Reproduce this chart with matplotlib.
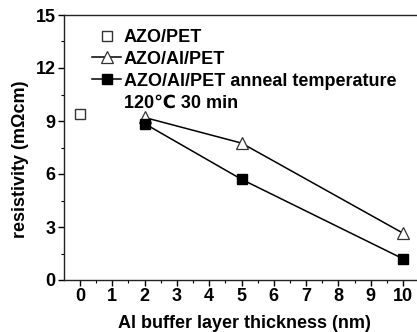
import matplotlib
matplotlib.use("Agg")
import matplotlib.pyplot as plt
from matplotlib.lines import Line2D
from matplotlib.ticker import MultipleLocator

plt.rcParams['font.family'] = ['Liberation Sans', 'DejaVu Sans']
plt.rcParams['font.weight'] = 'bold'

# data
azo_pet_x = [0]
azo_pet_y = [9.4]
azo_al_x = [2, 5, 10]
azo_al_y = [9.2, 7.75, 2.65]
anneal_x = [2, 5, 10]
anneal_y = [8.85, 5.7, 1.2]

labels = ["AZO/PET", "AZO/Al/PET", "AZO/Al/PET anneal temperature", "120\u2103 30 min"]
xticks = list(range(0, 11))
yticks = [0, 3, 6, 9, 12, 15]

fig = plt.figure(figsize=(4.17, 3.32), dpi=100)
ax = fig.add_axes([64/417, 1-280/332, (425-64)/417, (280-15)/332])

ax.plot(azo_pet_x, azo_pet_y, ls='none', marker='s', ms=6.5, mfc='white', mec='#333333', mew=1.0)
ax.plot(azo_al_x, azo_al_y, color='black', lw=1.1, marker='^', ms=9, mfc='white', mec='#333333', mew=0.9)
ax.plot(anneal_x, anneal_y, color='black', lw=1.1, marker='s', ms=7, mfc='black', mec='black')

ax.set_xlim(-0.495, 10.68)
ax.set_ylim(0, 15)
ax.set_xticks(xticks)
ax.set_yticks(yticks)
ax.xaxis.set_minor_locator(MultipleLocator(0.5))
ax.yaxis.set_minor_locator(MultipleLocator(1.5))
ax.tick_params(axis='both', which='major', direction='out', length=4, width=1, labelsize=13, pad=2)
ax.tick_params(axis='both', which='minor', direction='out', length=2, width=0.8)
for lab in ax.get_xticklabels() + ax.get_yticklabels():
    lab.set_fontweight('bold')
for s in ['left', 'bottom', 'top']:
    ax.spines[s].set_linewidth(1.0)
    ax.spines[s].set_color('#222222')
ax.spines['right'].set_visible(False)

ax.set_xlabel("Al buffer layer thickness (nm)", fontsize=13, fontweight='bold', labelpad=7)
ax.set_ylabel("resistivity (m\u03a9cm)", fontsize=13, fontweight='bold')
ax.yaxis.set_label_coords(-0.097, 0.455)

handles = [
    Line2D([], [], ls='none', marker='s', ms=6.5, mfc='white', mec='#333333', mew=1.0),
    Line2D([], [], color='black', lw=1.1, marker='^', ms=9, mfc='white', mec='#333333', mew=0.9),
    Line2D([], [], color='black', lw=1.1, marker='s', ms=7, mfc='black', mec='black'),
    Line2D([], [], ls='none'),
]
leg = ax.legend(handles, labels, loc='upper left', bbox_to_anchor=(0.058, 0.975), frameon=False,
                prop={'size': 13, 'weight': 'bold'}, handlelength=1.6, handletextpad=0.15,
                labelspacing=0.27, borderaxespad=0)

fig.savefig("out.png", dpi=100)
